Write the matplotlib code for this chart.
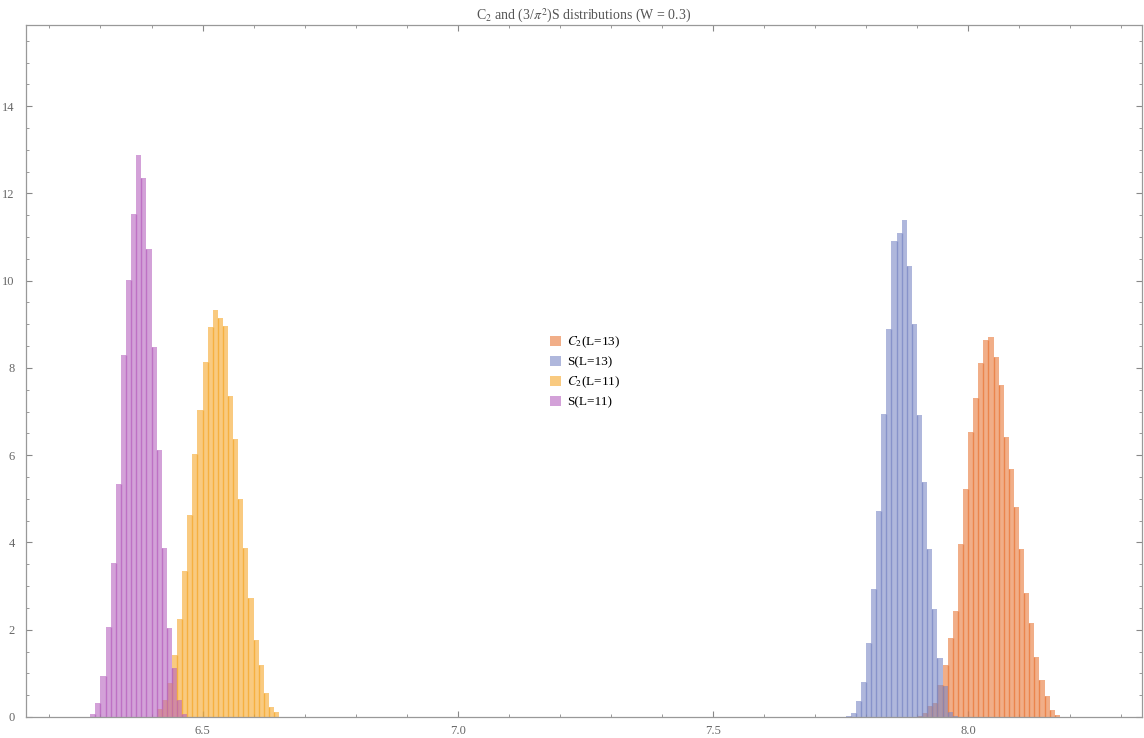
import numpy as np
import matplotlib
matplotlib.use("Agg")
import matplotlib.pyplot as plt
from matplotlib.patches import Patch
from matplotlib.ticker import MultipleLocator, FormatStrFormatter

plt.rcParams["font.family"] = ["Liberation Serif", "DejaVu Serif"]
plt.rcParams["mathtext.fontset"] = "stix"

#===============================================================================
# DATA  (PDF-normalised histograms, bin width 0.01)
#===============================================================================

BIN = 0.01

# C2, L=13
c2_13_start = 7.90
c2_13 = [0.03, 0.08, 0.24, 0.33, 0.74, 1.18, 1.82, 2.44, 3.97, 5.23, 6.54,
         7.30, 8.12, 8.65, 8.72, 8.24, 7.62, 6.42, 5.69, 4.82, 3.84, 2.85,
         2.16, 1.38, 0.85, 0.47, 0.17, 0.05]

# S, L=13
s_13_start = 7.76
s_13 = [0.03, 0.08, 0.37, 0.81, 1.70, 2.94, 4.71, 6.95, 8.90, 10.92, 11.10,
        11.38, 10.34, 9.01, 6.93, 5.38, 3.86, 2.48, 1.36, 0.72, 0.12, 0.03]

# C2, L=11
c2_11_start = 6.41
c2_11 = [0.18, 0.39, 0.79, 1.41, 2.25, 3.34, 4.62, 6.02, 7.03, 8.13, 8.94,
         9.32, 9.14, 8.95, 7.35, 6.36, 4.99, 3.87, 2.72, 1.76, 1.18, 0.54,
         0.22, 0.11]

# S, L=11
s_11_start = 6.28
s_11 = [0.06, 0.31, 0.95, 2.07, 3.53, 5.35, 8.29, 10.02, 11.53, 12.88, 12.36,
        10.73, 8.47, 6.11, 3.88, 2.05, 1.12, 0.38, 0.06]

labels = ["$C_2$(L=13)", "S(L=13)", "$C_2$(L=11)", "S(L=11)"]
colors = ["#E97839", "#7A87C5", "#F5A82B", "#B762BE"]

series = [(c2_13_start, c2_13), (s_13_start, s_13),
          (c2_11_start, c2_11), (s_11_start, s_11)]

#===============================================================================
# PLOT
#===============================================================================

fig = plt.figure(figsize=(11.44, 7.38), dpi=100)
ax = fig.add_axes([0.0227, 0.0285, 0.9756, 0.9376])

for (start, heights), col in zip(series, colors):
    heights = np.asarray(heights)
    edges = np.round(start + BIN * np.arange(len(heights)), 2)
    ax.bar(edges, heights, width=BIN, align="edge", color=col, alpha=0.6,
           linewidth=0)
    # darker separators between neighbouring bars
    inner = edges[1:]
    ax.vlines(inner, 0, np.minimum(heights[:-1], heights[1:]), color=col,
              alpha=0.75, linewidth=1.0)

ax.set_xlim(6.154, 8.341)
ax.set_ylim(0, 15.86)

ax.xaxis.set_major_locator(MultipleLocator(0.5))
ax.xaxis.set_minor_locator(MultipleLocator(0.1))
ax.yaxis.set_major_locator(MultipleLocator(2))
ax.yaxis.set_minor_locator(MultipleLocator(0.5))
ax.xaxis.set_major_formatter(FormatStrFormatter("%.1f"))

ax.tick_params(which="both", direction="in", top=True, right=True,
               colors="#888888", labelcolor="#666666", labelsize=9)
ax.tick_params(which="major", length=4, width=0.8)
ax.tick_params(which="minor", length=2.5, width=0.6)
ax.tick_params(axis="x", pad=6)
ax.tick_params(axis="y", pad=8)
for sp in ax.spines.values():
    sp.set_color("#999999")
    sp.set_linewidth(0.9)

ax.set_title(r"C$_2$ and (3/$\pi^2$)S distributions (W = 0.3)",
             fontsize=10, color="#555555", pad=4)

handles = [Patch(facecolor=c, alpha=0.6, edgecolor="none") for c in colors]
ax.legend(handles, labels, loc="center left", bbox_to_anchor=(0.459, 0.499),
          frameon=False, fontsize=9.5, handlelength=0.8, handleheight=0.8,
          handletextpad=0.5, labelspacing=0.45)

plt.savefig("out.png", dpi=100)
plt.close()
